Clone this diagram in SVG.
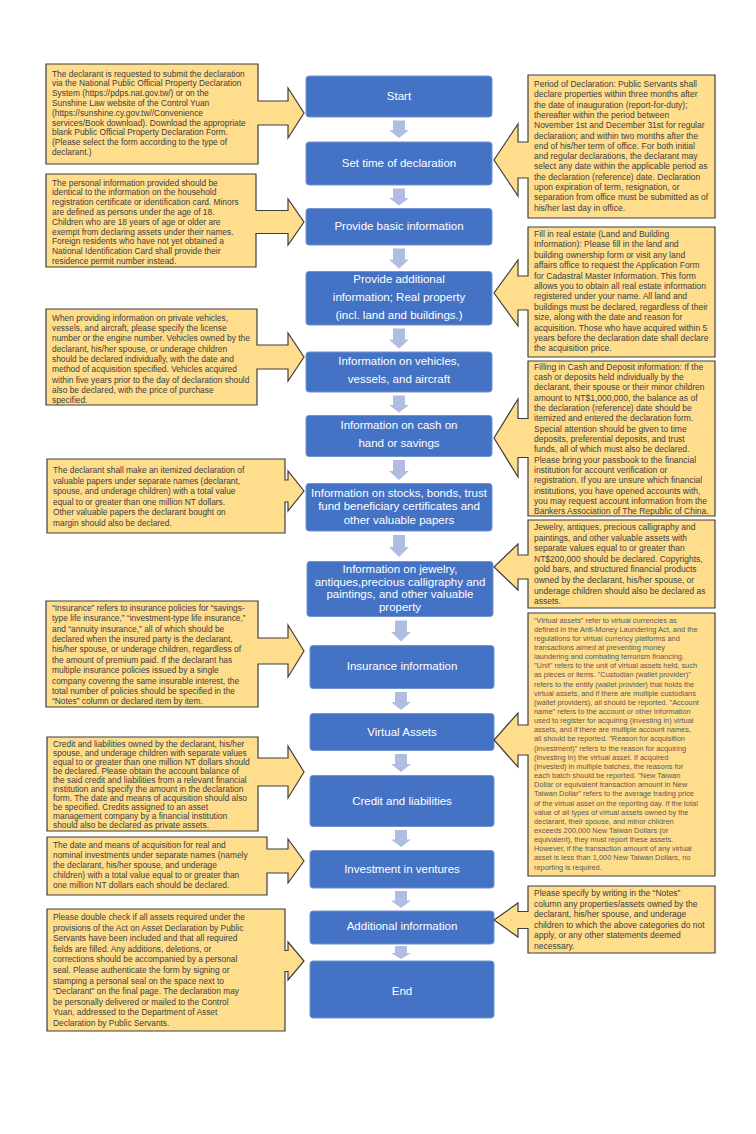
<svg xmlns="http://www.w3.org/2000/svg" width="756" height="1134" viewBox="0 0 756 1134">
<style>
.bg{fill:#ffffff}
.nd{fill:#4472C4;stroke:#7393D2;stroke-width:1}
.nt{fill:#ffffff;font-family:"Liberation Sans",Arial,sans-serif;font-size:11.5px;text-anchor:middle}
.co{fill:#FEDD8D;stroke:#3F3F3F;stroke-width:1.2;stroke-linejoin:miter}
.ct{fill:#404040;font-family:"Liberation Sans",Arial,sans-serif;font-size:8.4px}
.cr{fill:#404040;font-family:"Liberation Sans",Arial,sans-serif;font-size:8.5px}
.cv{fill:#595959;font-family:"Liberation Sans",Arial,sans-serif;font-size:7.4px}
.ar{fill:#AFBDE2}
</style>
<rect class="bg" x="0" y="0" width="756" height="1134"/>

<g id="connectors">
<path class="ar" d="M393,120.5H405V130H409L399,138L389,130H393Z"/>
<path class="ar" d="M393,188.5H405V198H409L399,205.5L389,198H393Z"/>
<path class="ar" d="M393,248.5H405V259.5H409L399,268.5L389,259.5H393Z"/>
<path class="ar" d="M393,328.5H405V339.5H409L399,348.5L389,339.5H393Z"/>
<path class="ar" d="M393,395.5H405V405H409L399,412.5L389,405H393Z"/>
<path class="ar" d="M393,460H405V471H409L399,480L389,471H393Z"/>
<path class="ar" d="M393,535H405V547H409L399,557L389,547H393Z"/>
<path class="ar" d="M395,620.5H407V632H411L401,641.5L391,632H395Z"/>
<path class="ar" d="M395,692H407V702H411L401,710L391,702H395Z"/>
<path class="ar" d="M395,754H407V764H411L401,772L391,764H395Z"/>
<path class="ar" d="M395,830H407V839.5H411L401,847L391,839.5H395Z"/>
<path class="ar" d="M395,891H407V900.5H411L401,908L391,900.5H395Z"/>
<path class="ar" d="M395,946H407V953H411L401,959L391,953H395Z"/>
</g>

<g id="n-start"><rect class="nd" x="306" y="76" width="186" height="41" rx="3"/><text class="nt" x="399" y="99.5">Start</text></g>
<g id="n-settime"><rect class="nd" x="306" y="142" width="186" height="43" rx="3"/><text class="nt" x="399" y="166.5">Set time of declaration</text></g>
<g id="n-basic"><rect class="nd" x="306" y="208.5" width="186" height="36.5" rx="3"/><text class="nt" x="399" y="230">Provide basic information</text></g>
<g id="n-realprop"><rect class="nd" x="306" y="271.5" width="186" height="53.5" rx="3"/><text class="nt"><tspan x="399" y="283">Provide additional</tspan><tspan x="399" y="301">information; Real property</tspan><tspan x="399" y="319.2">(incl. land and buildings.)</tspan></text></g>
<g id="n-vehicles"><rect class="nd" x="306" y="352" width="186" height="40" rx="3"/><text class="nt"><tspan x="399" y="364.6">Information on vehicles,</tspan><tspan x="399" y="382.7">vessels, and aircraft</tspan></text></g>
<g id="n-cash"><rect class="nd" x="306" y="415.5" width="186" height="41" rx="3"/><text class="nt"><tspan x="399" y="428.7">Information on cash on</tspan><tspan x="399" y="446.9">hand or savings</tspan></text></g>
<g id="n-stocks"><rect class="nd" x="306" y="483.5" width="186" height="47.5" rx="3"/><text class="nt"><tspan x="399" y="497.4">Information on stocks, bonds, trust</tspan><tspan x="399" y="510.4">fund beneficiary certificates and</tspan><tspan x="399" y="523.5">other valuable papers</tspan></text></g>
<g id="n-jewelry"><rect class="nd" x="307" y="561.5" width="186" height="55" rx="3"/><text class="nt"><tspan x="400" y="573">Information on jewelry,</tspan><tspan x="400" y="586">antiques,precious calligraphy and</tspan><tspan x="400" y="598.4">paintings, and other valuable</tspan><tspan x="400" y="611">property</tspan></text></g>
<g id="n-insurance"><rect class="nd" x="310" y="645.5" width="184" height="43" rx="3"/><text class="nt" x="402" y="670">Insurance information</text></g>
<g id="n-virtual"><rect class="nd" x="310" y="713.5" width="184" height="37" rx="3"/><text class="nt" x="402" y="736">Virtual Assets</text></g>
<g id="n-credit"><rect class="nd" x="310" y="775.5" width="184" height="51" rx="3"/><text class="nt" x="402" y="805">Credit and liabilities</text></g>
<g id="n-invest"><rect class="nd" x="310" y="850.5" width="184" height="37.5" rx="3"/><text class="nt" x="402" y="873">Investment in ventures</text></g>
<g id="n-additional"><rect class="nd" x="310" y="911" width="184" height="33" rx="3"/><text class="nt" x="402" y="930">Additional information</text></g>
<g id="n-end"><rect class="nd" x="310" y="961" width="184" height="57" rx="3"/><text class="nt" x="402" y="995">End</text></g>

<g id="c-l1"><path class="co" d="M46,64H258V101H288V88L304,113L288,138V125H258V164H46Z"/>
<text class="ct"><tspan x="52" y="76.5">The declarant is requested to submit the declaration</tspan><tspan x="52" dy="9.8">via the National Public Official Property Declaration</tspan><tspan x="52" dy="9.8">System (https://pdps.nat.gov.tw/) or on the</tspan><tspan x="52" dy="9.8">Sunshine Law website of the Control Yuan</tspan><tspan x="52" dy="9.8">(https://sunshine.cy.gov.tw//Convenience</tspan><tspan x="52" dy="9.8">services/Book download). Download the appropriate</tspan><tspan x="52" dy="9.8">blank Public Official Property Declaration Form.</tspan><tspan x="52" dy="9.8">(Please select the form according to the type of</tspan><tspan x="52" dy="9.8">declarant.)</tspan></text></g>

<g id="c-l2"><path class="co" d="M46,174H256V210.5H288V199L304,222L288,245V233.5H256V267H46Z"/>
<text class="ct"><tspan x="52" y="185.5">The personal information provided should be</tspan><tspan x="52" dy="9.8">identical to the information on the household</tspan><tspan x="52" dy="9.8">registration certificate or identification card. Minors</tspan><tspan x="52" dy="9.8">are defined as persons under the age of 18.</tspan><tspan x="52" dy="9.8">Children who are 18 years of age or older are</tspan><tspan x="52" dy="9.8">exempt from declaring assets under their names.</tspan><tspan x="52" dy="9.8">Foreign residents who have not yet obtained a</tspan><tspan x="52" dy="9.8">National Identification Card shall provide their</tspan><tspan x="52" dy="9.8">residence permit number instead.</tspan></text></g>

<g id="c-l3"><path class="co" d="M46,309H257V345H288V333L304,357L288,381V369H257V405H46Z"/>
<text class="ct"><tspan x="52" y="320.7">When providing information on private vehicles,</tspan><tspan x="52" dy="10.3">vessels, and aircraft, please specify the license</tspan><tspan x="52" dy="10.3">number or the engine number. Vehicles owned by the</tspan><tspan x="52" dy="10.3">declarant, his/her spouse, or underage children</tspan><tspan x="52" dy="10.3">should be declared individually, with the date and</tspan><tspan x="52" dy="10.3">method of acquisition specified. Vehicles acquired</tspan><tspan x="52" dy="10.3">within five years prior to the day of declaration should</tspan><tspan x="52" dy="10.3">also be declared, with the price of purchase</tspan><tspan x="52" dy="10.3">specified.</tspan></text></g>

<g id="c-l4"><path class="co" d="M47,459H285V480H288V471L304,491L288,511V502H285V533H47Z"/>
<text class="ct"><tspan x="53" y="473">The declarant shall make an itemized declaration of</tspan><tspan x="53" dy="10.6">valuable papers under separate names (declarant,</tspan><tspan x="53" dy="10.6">spouse, and underage children) with a total value</tspan><tspan x="53" dy="10.6">equal to or greater than one million NT dollars.</tspan><tspan x="53" dy="10.6">Other valuable papers the declarant bought on</tspan><tspan x="53" dy="10.6">margin should also be declared.</tspan></text></g>

<g id="c-l5"><path class="co" d="M46,601H258V638H288V625L304,651L288,677V664H258V707H46Z"/>
<text class="ct"><tspan x="52" y="610.7">“Insurance” refers to insurance policies for “savings-</tspan><tspan x="52" dy="10.4">type life insurance,” “investment-type life insurance,”</tspan><tspan x="52" dy="10.4">and “annuity insurance,” all of which should be</tspan><tspan x="52" dy="10.4">declared when the insured party is the declarant,</tspan><tspan x="52" dy="10.4">his/her spouse, or underage children, regardless of</tspan><tspan x="52" dy="10.4">the amount of premium paid. If the declarant has</tspan><tspan x="52" dy="10.4">multiple insurance policies issued by a single</tspan><tspan x="52" dy="10.4">company covering the same insurable interest, the</tspan><tspan x="52" dy="10.4">total number of policies should be specified in the</tspan><tspan x="52" dy="10.4">“Notes” column or declared item by item.</tspan></text></g>

<g id="c-l6"><path class="co" d="M47,737H258V758H288V746L304,772L288,798V786H258V831H47Z"/>
<text class="ct"><tspan x="53" y="746.5">Credit and liabilities owned by the declarant, his/her</tspan><tspan x="53" dy="9.1">spouse, and underage children with separate values</tspan><tspan x="53" dy="9.1">equal to or greater than one million NT dollars should</tspan><tspan x="53" dy="9.1">be declared. Please obtain the account balance of</tspan><tspan x="53" dy="9.1">the said credit and liabilities from a relevant financial</tspan><tspan x="53" dy="9.1">institution and specify the amount in the declaration</tspan><tspan x="53" dy="9.1">form. The date and means of acquisition should also</tspan><tspan x="53" dy="9.1">be specified. Credits assigned to an asset</tspan><tspan x="53" dy="9.1">management company by a financial institution</tspan><tspan x="53" dy="9.1">should also be declared as private assets.</tspan></text></g>

<g id="c-l7"><path class="co" d="M47,837H267V849H288V839L304,861L288,883V873H267V895H47Z"/>
<text class="ct"><tspan x="53" y="848">The date and means of acquisition for real and</tspan><tspan x="53" dy="10">nominal investments under separate names (namely</tspan><tspan x="53" dy="10">the declarant, his/her spouse, and underage</tspan><tspan x="53" dy="10">children) with a total value equal to or greater than</tspan><tspan x="53" dy="10">one million NT dollars each should be declared.</tspan></text></g>

<g id="c-l8"><path class="co" d="M47,909H285V950.5H288V942L304,961L288,980V971.5H285V1031H47Z"/>
<text class="ct"><tspan x="53" y="920">Please double check if all assets required under the</tspan><tspan x="53" dy="10.6">provisions of the Act on Asset Declaration by Public</tspan><tspan x="53" dy="10.6">Servants have been included and that all required</tspan><tspan x="53" dy="10.6">fields are filled. Any additions, deletions, or</tspan><tspan x="53" dy="10.6">corrections should be accompanied by a personal</tspan><tspan x="53" dy="10.6">seal. Please authenticate the form by signing or</tspan><tspan x="53" dy="10.6">stamping a personal seal on the space next to</tspan><tspan x="53" dy="10.6">“Declarant” on the final page. The declaration may</tspan><tspan x="53" dy="10.6">be personally delivered or mailed to the Control</tspan><tspan x="53" dy="10.6">Yuan, addressed to the Department of Asset</tspan><tspan x="53" dy="10.6">Declaration by Public Servants.</tspan></text></g>

<g id="c-r1"><path class="co" d="M528,75H715V218H528V178H518V196L494,160L518,124V142H528Z"/>
<text class="cr"><tspan x="534" y="87">Period of Declaration: Public Servants shall</tspan><tspan x="534" dy="10.3">declare properties within three months after</tspan><tspan x="534" dy="10.3">the date of inauguration (report-for-duty);</tspan><tspan x="534" dy="10.3">thereafter within the period between</tspan><tspan x="534" dy="10.3">November 1st and December 31st for regular</tspan><tspan x="534" dy="10.3">declaration; and within two months after the</tspan><tspan x="534" dy="10.3">end of his/her term of office. For both initial</tspan><tspan x="534" dy="10.3">and regular declarations, the declarant may</tspan><tspan x="534" dy="10.3">select any date within the applicable period as</tspan><tspan x="534" dy="10.3">the declaration (reference) date. Declaration</tspan><tspan x="534" dy="10.3">upon expiration of term, resignation, or</tspan><tspan x="534" dy="10.3">separation from office must be submitted as of</tspan><tspan x="534" dy="10.3">his/her last day in office.</tspan></text></g>

<g id="c-r2"><path class="co" d="M528,227H715V357H528V310H518V326L494,293L518,260V276H528Z"/>
<text class="cr"><tspan x="534" y="237">Fill in real estate (Land and Building</tspan><tspan x="534" dy="10.4">Information): Please fill in the land and</tspan><tspan x="534" dy="10.4">building ownership form or visit any land</tspan><tspan x="534" dy="10.4">affairs office to request the Application Form</tspan><tspan x="534" dy="10.4">for Cadastral Master Information. This form</tspan><tspan x="534" dy="10.4">allows you to obtain all real estate information</tspan><tspan x="534" dy="10.4">registered under your name. All land and</tspan><tspan x="534" dy="10.4">buildings must be declared, regardless of their</tspan><tspan x="534" dy="10.4">size, along with the date and reason for</tspan><tspan x="534" dy="10.4">acquisition. Those who have acquired within 5</tspan><tspan x="534" dy="10.4">years before the declaration date shall declare</tspan><tspan x="534" dy="10.4">the acquisition price.</tspan></text></g>

<g id="c-r3"><path class="co" d="M528,361H715V516H528V457.5H518V477L494,438L518,399V418.5H528Z"/>
<text class="cr"><tspan x="534" y="369.5">Filling in Cash and Deposit information: If the</tspan><tspan x="534" dy="10.35">cash or deposits held individually by the</tspan><tspan x="534" dy="10.35">declarant, their spouse or their minor children</tspan><tspan x="534" dy="10.35">amount to NT$1,000,000, the balance as of</tspan><tspan x="534" dy="10.35">the declaration (reference) date should be</tspan><tspan x="534" dy="10.35">itemized and entered the declaration form.</tspan><tspan x="534" dy="10.35">Special attention should be given to time</tspan><tspan x="534" dy="10.35">deposits, preferential deposits, and trust</tspan><tspan x="534" dy="10.35">funds, all of which must also be declared.</tspan><tspan x="534" dy="10.35">Please bring your passbook to the financial</tspan><tspan x="534" dy="10.35">institution for account verification or</tspan><tspan x="534" dy="10.35">registration. If you are unsure which financial</tspan><tspan x="534" dy="10.35">institutions, you have opened accounts with,</tspan><tspan x="534" dy="10.35">you may request account information from the</tspan><tspan x="534" dy="10.35">Bankers Association of The Republic of China.</tspan></text></g>

<g id="c-r4"><path class="co" d="M528,520H715V608H528V579H518V590L494,567L518,544V555H528Z"/>
<text class="cr"><tspan x="534" y="530">Jewelry, antiques, precious calligraphy and</tspan><tspan x="534" dy="10.6">paintings, and other valuable assets with</tspan><tspan x="534" dy="10.6">separate values equal to or greater than</tspan><tspan x="534" dy="10.6">NT$200,000 should be declared. Copyrights,</tspan><tspan x="534" dy="10.6">gold bars, and structured financial products</tspan><tspan x="534" dy="10.6">owned by the declarant, his/her spouse, or</tspan><tspan x="534" dy="10.6">underage children should also be declared as</tspan><tspan x="534" dy="10.6">assets.</tspan></text></g>

<g id="c-r5"><path class="co" d="M528,613H715V876H528V755H518V767L494,740L518,713V725H528Z"/>
<text class="cv"><tspan x="534" y="622.5">"Virtual assets" refer to virtual currencies as</tspan><tspan x="534" dy="9.15">defined in the Anti-Money Laundering Act, and the</tspan><tspan x="534" dy="9.15">regulations for virtual currency platforms and</tspan><tspan x="534" dy="9.15">transactions aimed at preventing money</tspan><tspan x="534" dy="9.15">laundering and combating terrorism financing.</tspan><tspan x="534" dy="9.15">"Unit" refers to the unit of virtual assets held, such</tspan><tspan x="534" dy="9.15">as pieces or items. "Custodian (wallet provider)"</tspan><tspan x="534" dy="9.15">refers to the entity (wallet provider) that holds the</tspan><tspan x="534" dy="9.15">virtual assets, and if there are multiple custodians</tspan><tspan x="534" dy="9.15">(wallet providers), all should be reported. "Account</tspan><tspan x="534" dy="9.15">name" refers to the account or other information</tspan><tspan x="534" dy="9.15">used to register for acquiring (investing in) virtual</tspan><tspan x="534" dy="9.15">assets, and if there are multiple account names,</tspan><tspan x="534" dy="9.15">all should be reported. "Reason for acquisition</tspan><tspan x="534" dy="9.15">(investment)" refers to the reason for acquiring</tspan><tspan x="534" dy="9.15">(investing in) the virtual asset. If acquired</tspan><tspan x="534" dy="9.15">(invested) in multiple batches, the reasons for</tspan><tspan x="534" dy="9.15">each batch should be reported. "New Taiwan</tspan><tspan x="534" dy="9.15">Dollar or equivalent transaction amount in New</tspan><tspan x="534" dy="9.15">Taiwan Dollar" refers to the average trading price</tspan><tspan x="534" dy="9.15">of the virtual asset on the reporting day. If the total</tspan><tspan x="534" dy="9.15">value of all types of virtual assets owned by the</tspan><tspan x="534" dy="9.15">declarant, their spouse, and minor children</tspan><tspan x="534" dy="9.15">exceeds 200,000 New Taiwan Dollars (or</tspan><tspan x="534" dy="9.15">equivalent), they must report these assets.</tspan><tspan x="534" dy="9.15">However, if the transaction amount of any virtual</tspan><tspan x="534" dy="9.15">asset is less than 1,000 New Taiwan Dollars, no</tspan><tspan x="534" dy="9.15">reporting is required.</tspan></text></g>

<g id="c-r6"><path class="co" d="M528,886H715V953H528V928.5H518V937L494,920L518,903V911.5H528Z"/>
<text class="cr"><tspan x="534" y="896">Please specify by writing in the “Notes”</tspan><tspan x="534" dy="10.5">column any properties/assets owned by the</tspan><tspan x="534" dy="10.5">declarant, his/her spouse, and underage</tspan><tspan x="534" dy="10.5">children to which the above categories do not</tspan><tspan x="534" dy="10.5">apply, or any other statements deemed</tspan><tspan x="534" dy="10.5">necessary.</tspan></text></g>
</svg>
